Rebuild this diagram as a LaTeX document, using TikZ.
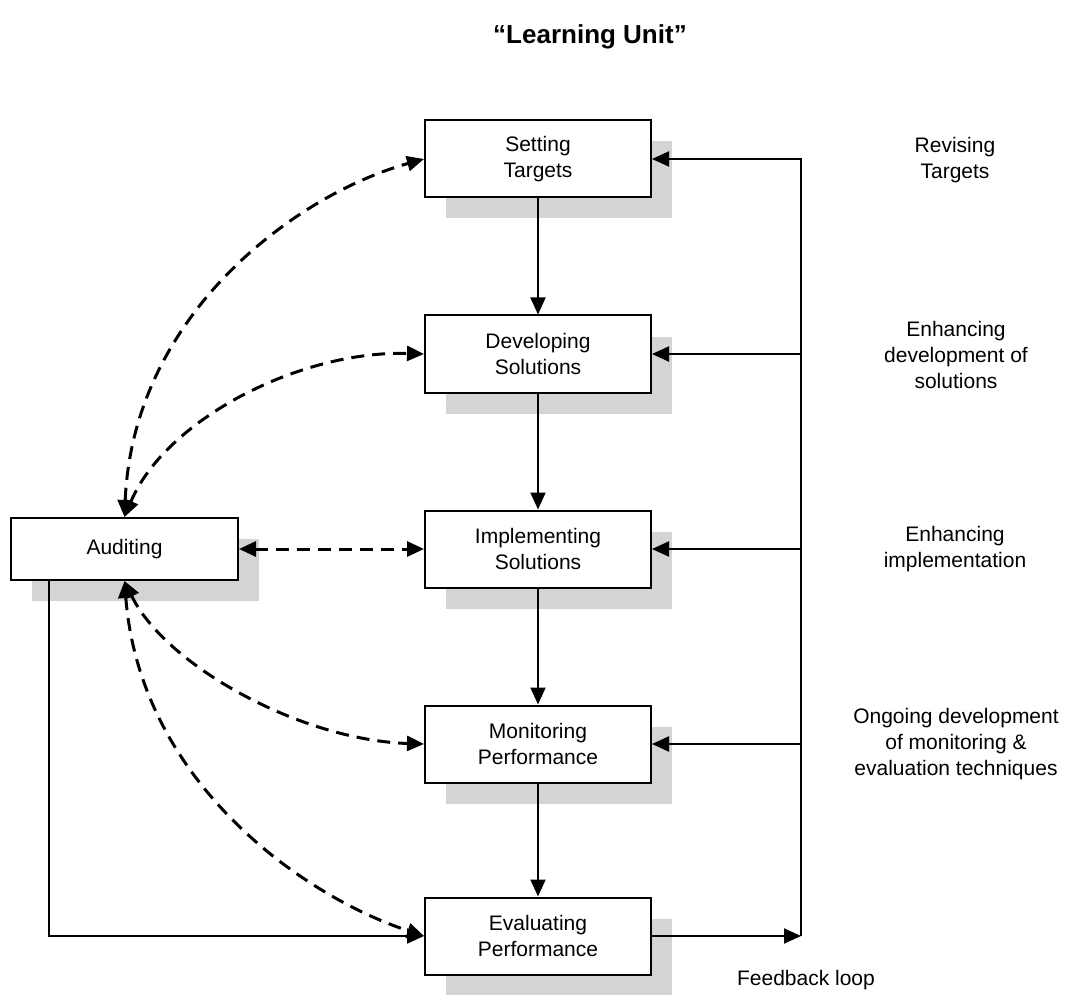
\documentclass[tikz,border=0pt]{standalone}
\usepackage{fontspec}
\setmainfont{Liberation Sans}
\usetikzlibrary{arrows.meta,shadows}
\begin{document}
\begin{tikzpicture}[x=1pt,y=-1pt,
  stage/.style={draw, line width=2pt, fill=white, minimum width=226pt,
    minimum height=77pt, align=center, inner sep=0pt,
    font=\fontsize{21}{26}\selectfont,
    drop shadow={shadow xshift=21pt, shadow yshift=-21pt, fill=black!17, opacity=1}},
  note/.style={align=center, font=\fontsize{21}{26}\selectfont},
  flow/.style={line width=2pt, -{Triangle[length=17pt,width=15pt]}},
  link/.style={line width=3pt, dash pattern=on 13pt off 8pt,
    {Triangle[length=17pt,width=15pt]}-{Triangle[length=17pt,width=15pt]}}]

\useasboundingbox (0,0) rectangle (1069,995);

% title
\node[font=\fontsize{26}{30}\selectfont\bfseries] (title) at (590,37) {“Learning Unit”};

% main stages
\node[stage] (st)  at (538,159) {Setting\\Targets};
\node[stage] (dev) at (538,354) {Developing\\Solutions};
\node[stage] (imp) at (538,549) {Implementing\\Solutions};
\node[stage] (mon) at (538,744) {Monitoring\\Performance};
\node[stage] (ev)  at (538,936) {Evaluating\\Performance};

% auditing
\node[stage, minimum width=227pt, minimum height=62pt] (aud) at (124.5,549) {Auditing};

% right-hand labels
\node[note] (l1) at (955,160) {Revising\\Targets};
\node[note] (l2) at (956,355) {Enhancing\\development of\\solutions};
\node[note] (l3) at (955,549) {Enhancing\\implementation};
\node[note] (l4) at (956,744) {Ongoing development\\of monitoring \&\\evaluation techniques};
\node[note] (l5) at (806,980) {Feedback loop};

% main sequence
\draw[flow] (st) -- (dev);
\draw[flow] (dev) -- (imp);
\draw[flow] (imp) -- (mon);
\draw[flow] (mon) -- (ev);

% feedback loop
\coordinate (fb) at (801,936);
\coordinate (fbtop) at (801,159);
\draw[flow] (ev.east) -- (fb);
\draw[line width=2pt] (fb) -- (fbtop);
\draw[flow] ([xshift=1pt]fbtop) -- (st.east);
\draw[flow] (fb |- dev.east) -- (dev.east);
\draw[flow] (fb |- imp.east) -- (imp.east);
\draw[flow] (fb |- mon.east) -- (mon.east);

% auditing to evaluation
\draw[flow] ([xshift=-75.5pt]aud.south) |- (ev.west);

% auditing links
\draw[link] (aud.north) .. controls (133,315) and (295,195) .. (st.west);
\draw[link] (aud.north) .. controls (165,420) and (300,350) .. (dev.west);
\draw[link] (aud.east) -- (imp.west);
\draw[link] (aud.south) .. controls (165,665) and (300,740) .. (mon.west);
\draw[link] (aud.south) .. controls (140,780) and (300,895) .. (ev.west);
\end{tikzpicture}
\end{document}
